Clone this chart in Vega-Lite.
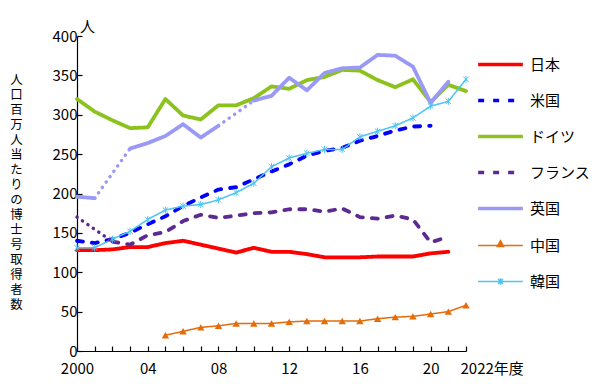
{
  "$schema": "https://vega.github.io/schema/vega-lite/v6.json",
  "autosize": {"type": "none"},
  "padding": {"left": 77, "top": 36, "right": 134, "bottom": 33},
  "width": 389,
  "height": 315,
  "background": "white",
  "title": {"text": "人", "anchor": "start", "frame": "group", "fontSize": 15, "fontWeight": "normal", "font": "Noto Sans CJK JP", "color": "black", "offset": -6, "dx": 3},
  "config": {
    "view": {"stroke": null},
    "font": "Noto Sans CJK JP",
    "axis": {"grid": false, "domainColor": "black", "tickColor": "black", "labelColor": "black", "titleColor": "black", "labelFontSize": 15, "labelFont": "Noto Sans CJK JP", "titleFont": "Noto Sans CJK JP", "domainWidth": 1.2, "tickWidth": 1.2}
  },
  "datasets": {
    "main": [
      {"country": "日本", "seg": "a", "year": 2000, "value": 128}, {"country": "日本", "seg": "a", "year": 2001, "value": 128}, {"country": "日本", "seg": "a", "year": 2002, "value": 129}, {"country": "日本", "seg": "a", "year": 2003, "value": 132}, {"country": "日本", "seg": "a", "year": 2004, "value": 132}, {"country": "日本", "seg": "a", "year": 2005, "value": 137}, {"country": "日本", "seg": "a", "year": 2006, "value": 140}, {"country": "日本", "seg": "a", "year": 2007, "value": 135}, {"country": "日本", "seg": "a", "year": 2008, "value": 130}, {"country": "日本", "seg": "a", "year": 2009, "value": 125}, {"country": "日本", "seg": "a", "year": 2010, "value": 131}, {"country": "日本", "seg": "a", "year": 2011, "value": 126}, {"country": "日本", "seg": "a", "year": 2012, "value": 126}, {"country": "日本", "seg": "a", "year": 2013, "value": 123}, {"country": "日本", "seg": "a", "year": 2014, "value": 119}, {"country": "日本", "seg": "a", "year": 2015, "value": 119}, {"country": "日本", "seg": "a", "year": 2016, "value": 119}, {"country": "日本", "seg": "a", "year": 2017, "value": 120}, {"country": "日本", "seg": "a", "year": 2018, "value": 120}, {"country": "日本", "seg": "a", "year": 2019, "value": 120}, {"country": "日本", "seg": "a", "year": 2020, "value": 124}, {"country": "日本", "seg": "a", "year": 2021, "value": 126},
      {"country": "米国", "seg": "a", "year": 2000, "value": 140}, {"country": "米国", "seg": "a", "year": 2001, "value": 137}, {"country": "米国", "seg": "a", "year": 2002, "value": 142}, {"country": "米国", "seg": "a", "year": 2003, "value": 150}, {"country": "米国", "seg": "a", "year": 2004, "value": 161}, {"country": "米国", "seg": "a", "year": 2005, "value": 171}, {"country": "米国", "seg": "a", "year": 2006, "value": 184}, {"country": "米国", "seg": "a", "year": 2007, "value": 195}, {"country": "米国", "seg": "a", "year": 2008, "value": 205}, {"country": "米国", "seg": "a", "year": 2009, "value": 208}, {"country": "米国", "seg": "a", "year": 2010, "value": 218}, {"country": "米国", "seg": "a", "year": 2011, "value": 228}, {"country": "米国", "seg": "a", "year": 2012, "value": 237}, {"country": "米国", "seg": "a", "year": 2013, "value": 248}, {"country": "米国", "seg": "a", "year": 2014, "value": 254}, {"country": "米国", "seg": "a", "year": 2015, "value": 258}, {"country": "米国", "seg": "a", "year": 2016, "value": 267}, {"country": "米国", "seg": "a", "year": 2017, "value": 273}, {"country": "米国", "seg": "a", "year": 2018, "value": 280}, {"country": "米国", "seg": "a", "year": 2019, "value": 285}, {"country": "米国", "seg": "a", "year": 2020, "value": 286},
      {"country": "ドイツ", "seg": "a", "year": 2000, "value": 320}, {"country": "ドイツ", "seg": "a", "year": 2001, "value": 304}, {"country": "ドイツ", "seg": "a", "year": 2002, "value": 293}, {"country": "ドイツ", "seg": "a", "year": 2003, "value": 283}, {"country": "ドイツ", "seg": "a", "year": 2004, "value": 284}, {"country": "ドイツ", "seg": "a", "year": 2005, "value": 320}, {"country": "ドイツ", "seg": "a", "year": 2006, "value": 299}, {"country": "ドイツ", "seg": "a", "year": 2007, "value": 294}, {"country": "ドイツ", "seg": "a", "year": 2008, "value": 312}, {"country": "ドイツ", "seg": "a", "year": 2009, "value": 312}, {"country": "ドイツ", "seg": "a", "year": 2010, "value": 321}, {"country": "ドイツ", "seg": "a", "year": 2011, "value": 336}, {"country": "ドイツ", "seg": "a", "year": 2012, "value": 333}, {"country": "ドイツ", "seg": "a", "year": 2013, "value": 344}, {"country": "ドイツ", "seg": "a", "year": 2014, "value": 348}, {"country": "ドイツ", "seg": "a", "year": 2015, "value": 357}, {"country": "ドイツ", "seg": "a", "year": 2016, "value": 356}, {"country": "ドイツ", "seg": "a", "year": 2017, "value": 344}, {"country": "ドイツ", "seg": "a", "year": 2018, "value": 335}, {"country": "ドイツ", "seg": "a", "year": 2019, "value": 345}, {"country": "ドイツ", "seg": "a", "year": 2020, "value": 316}, {"country": "ドイツ", "seg": "a", "year": 2021, "value": 338}, {"country": "ドイツ", "seg": "a", "year": 2022, "value": 330},
      {"country": "フランス", "seg": "a", "year": 2002, "value": 139}, {"country": "フランス", "seg": "a", "year": 2003, "value": 135}, {"country": "フランス", "seg": "a", "year": 2004, "value": 147}, {"country": "フランス", "seg": "a", "year": 2005, "value": 151}, {"country": "フランス", "seg": "a", "year": 2006, "value": 165}, {"country": "フランス", "seg": "a", "year": 2007, "value": 173}, {"country": "フランス", "seg": "a", "year": 2008, "value": 169}, {"country": "フランス", "seg": "a", "year": 2009, "value": 172}, {"country": "フランス", "seg": "a", "year": 2010, "value": 175}, {"country": "フランス", "seg": "a", "year": 2011, "value": 176}, {"country": "フランス", "seg": "a", "year": 2012, "value": 180}, {"country": "フランス", "seg": "a", "year": 2013, "value": 180}, {"country": "フランス", "seg": "a", "year": 2014, "value": 177}, {"country": "フランス", "seg": "a", "year": 2015, "value": 181}, {"country": "フランス", "seg": "a", "year": 2016, "value": 170}, {"country": "フランス", "seg": "a", "year": 2017, "value": 168}, {"country": "フランス", "seg": "a", "year": 2018, "value": 172}, {"country": "フランス", "seg": "a", "year": 2019, "value": 167}, {"country": "フランス", "seg": "a", "year": 2020, "value": 138}, {"country": "フランス", "seg": "a", "year": 2021, "value": 145},
      {"country": "英国", "seg": "a", "year": 2000, "value": 196}, {"country": "英国", "seg": "a", "year": 2001, "value": 194},
      {"country": "英国", "seg": "b", "year": 2003, "value": 257}, {"country": "英国", "seg": "b", "year": 2004, "value": 264}, {"country": "英国", "seg": "b", "year": 2005, "value": 273}, {"country": "英国", "seg": "b", "year": 2006, "value": 288}, {"country": "英国", "seg": "b", "year": 2007, "value": 271}, {"country": "英国", "seg": "b", "year": 2008, "value": 286},
      {"country": "英国", "seg": "c", "year": 2010, "value": 318}, {"country": "英国", "seg": "c", "year": 2011, "value": 324}, {"country": "英国", "seg": "c", "year": 2012, "value": 347}, {"country": "英国", "seg": "c", "year": 2013, "value": 331}, {"country": "英国", "seg": "c", "year": 2014, "value": 353}, {"country": "英国", "seg": "c", "year": 2015, "value": 359}, {"country": "英国", "seg": "c", "year": 2016, "value": 360}, {"country": "英国", "seg": "c", "year": 2017, "value": 376}, {"country": "英国", "seg": "c", "year": 2018, "value": 375}, {"country": "英国", "seg": "c", "year": 2019, "value": 361}, {"country": "英国", "seg": "c", "year": 2020, "value": 315}, {"country": "英国", "seg": "c", "year": 2021, "value": 342},
      {"country": "中国", "seg": "a", "year": 2005, "value": 20}, {"country": "中国", "seg": "a", "year": 2006, "value": 25}, {"country": "中国", "seg": "a", "year": 2007, "value": 30}, {"country": "中国", "seg": "a", "year": 2008, "value": 32}, {"country": "中国", "seg": "a", "year": 2009, "value": 35}, {"country": "中国", "seg": "a", "year": 2010, "value": 35}, {"country": "中国", "seg": "a", "year": 2011, "value": 35}, {"country": "中国", "seg": "a", "year": 2012, "value": 37}, {"country": "中国", "seg": "a", "year": 2013, "value": 38}, {"country": "中国", "seg": "a", "year": 2014, "value": 38}, {"country": "中国", "seg": "a", "year": 2015, "value": 38}, {"country": "中国", "seg": "a", "year": 2016, "value": 38}, {"country": "中国", "seg": "a", "year": 2017, "value": 41}, {"country": "中国", "seg": "a", "year": 2018, "value": 43}, {"country": "中国", "seg": "a", "year": 2019, "value": 44}, {"country": "中国", "seg": "a", "year": 2020, "value": 47}, {"country": "中国", "seg": "a", "year": 2021, "value": 50}, {"country": "中国", "seg": "a", "year": 2022, "value": 58},
      {"country": "韓国", "seg": "a", "year": 2000, "value": 131}, {"country": "韓国", "seg": "a", "year": 2001, "value": 131}, {"country": "韓国", "seg": "a", "year": 2002, "value": 142}, {"country": "韓国", "seg": "a", "year": 2003, "value": 152}, {"country": "韓国", "seg": "a", "year": 2004, "value": 167}, {"country": "韓国", "seg": "a", "year": 2005, "value": 179}, {"country": "韓国", "seg": "a", "year": 2006, "value": 184}, {"country": "韓国", "seg": "a", "year": 2007, "value": 186}, {"country": "韓国", "seg": "a", "year": 2008, "value": 192}, {"country": "韓国", "seg": "a", "year": 2009, "value": 201}, {"country": "韓国", "seg": "a", "year": 2010, "value": 213}, {"country": "韓国", "seg": "a", "year": 2011, "value": 234}, {"country": "韓国", "seg": "a", "year": 2012, "value": 245}, {"country": "韓国", "seg": "a", "year": 2013, "value": 251}, {"country": "韓国", "seg": "a", "year": 2014, "value": 256}, {"country": "韓国", "seg": "a", "year": 2015, "value": 256}, {"country": "韓国", "seg": "a", "year": 2016, "value": 272}, {"country": "韓国", "seg": "a", "year": 2017, "value": 279}, {"country": "韓国", "seg": "a", "year": 2018, "value": 286}, {"country": "韓国", "seg": "a", "year": 2019, "value": 296}, {"country": "韓国", "seg": "a", "year": 2020, "value": 311}, {"country": "韓国", "seg": "a", "year": 2021, "value": 317}, {"country": "韓国", "seg": "a", "year": 2022, "value": 345}
    ],
    "dots": [
      {"country": "英国", "seg": "g1", "year": 2001, "value": 194}, {"country": "英国", "seg": "g1", "year": 2003, "value": 257},
      {"country": "英国", "seg": "g2", "year": 2008, "value": 286}, {"country": "英国", "seg": "g2", "year": 2010, "value": 318},
      {"country": "フランス", "seg": "g3", "year": 2000, "value": 170}, {"country": "フランス", "seg": "g3", "year": 2002, "value": 139}
    ]
  },
  "encoding": {
    "x": {"field": "year", "type": "quantitative", "scale": {"domain": [2000, 2022], "nice": false, "zero": false},
      "axis": {"title": null, "values": [2000,2001,2002,2003,2004,2005,2006,2007,2008,2009,2010,2011,2012,2013,2014,2015,2016,2017,2018,2019,2020,2021,2022],
        "labelExpr": "datum.value == 2000 ? '2000' : datum.value == 2022 ? '2022年度' : (datum.value % 4 == 0 ? substring(toString(datum.value), 2, 4) : '')",
        "labelAlign": {"condition": {"test": "datum.value == 2022", "value": "left"}, "value": "center"},
        "labelOffset": {"condition": {"test": "datum.value == 2022", "value": -6}, "value": 0},
        "labelOverlap": false, "labelFlush": false, "tickSize": -5, "labelPadding": 15}},
    "y": {"field": "value", "type": "quantitative", "scale": {"domain": [0, 400], "nice": false},
      "axis": {"values": [0,50,100,150,200,250,300,350,400], "tickSize": -5, "labelPadding": 5,
        "title": ["人","口","百","万","人","当","た","り","の","博","士","号","取","得","者","数"],
        "titleAngle": 0, "titleAlign": "center", "titleBaseline": "top", "titleX": -61, "titleY": 37, "titleFontSize": 12.4, "titleFontWeight": "normal", "titleLineHeight": 15}},
    "color": {"field": "country", "type": "nominal",
      "scale": {"domain": ["日本","米国","ドイツ","フランス","英国","中国","韓国"], "range": ["#ff0000","#0000ff","#8cc21c","#5c2a92","#9a9af6","#e46c0a","#4cc4f4"]},
      "legend": {"title": null, "orient": "none", "legendX": 416, "legendY": 21, "symbolType": "M-2,0H2", "symbolSize": 500, "labelFontSize": 15, "labelColor": "black", "labelOffset": 22, "rowPadding": 20,
        "encode": {"symbols": {"update": {
          "shape": {"signal": "datum.value === '中国' ? 'M-2,0H2M0,-0.42L0.28,0.08L-0.28,0.08Z' : datum.value === '韓国' ? 'M-2,0H2M-0.22,-0.22L0.22,0.22M-0.22,0.22L0.22,-0.22M0,-0.3V0.3' : 'M-2,0H2'"},
          "strokeWidth": {"signal": "(datum.value === '中国' || datum.value === '韓国') ? 1.5 : 3.5"},
          "fill": {"signal": "datum.value === '中国' ? '#e46c0a' : 'transparent'"}}}}}}
  },
  "layer": [
    {"data": {"name": "main"},
     "mark": {"type": "line", "strokeCap": "round", "strokeJoin": "round"},
     "encoding": {
       "detail": {"field": "seg"},
       "strokeDash": {"field": "country", "type": "nominal", "scale": {"domain": ["日本","米国","ドイツ","フランス","英国","中国","韓国"], "range": [[1,0],[6,9],[1,0],[6,9],[1,0],[1,0],[1,0]]}, "legend": {"title": null}},
       "strokeWidth": {"condition": {"test": "datum.country === '中国' || datum.country === '韓国'", "value": 1.5}, "value": 3.8}
     }},
    {"data": {"name": "dots"},
     "mark": {"type": "line", "strokeCap": "round", "strokeDash": [0.1, 6.5], "strokeWidth": 3.5},
     "encoding": {"detail": {"field": "seg"}}},
    {"data": {"name": "main"},
     "transform": [{"filter": "datum.country === '中国'"}],
     "mark": {"type": "point", "shape": "triangle-up", "filled": true, "size": 55, "opacity": 1}},
    {"data": {"name": "main"},
     "transform": [{"filter": "datum.country === '韓国'"}],
     "mark": {"type": "point", "shape": "M-1,-1L1,1M-1,1L1,-1M0,-1.3L0,1.3", "filled": false, "size": 30, "strokeWidth": 1, "opacity": 1}}
  ]
}
